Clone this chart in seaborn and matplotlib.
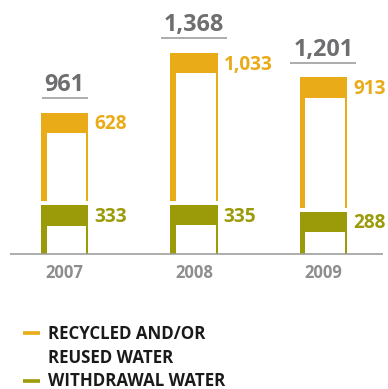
import matplotlib
matplotlib.use("Agg")
import matplotlib.pyplot as plt
import seaborn as sns
import pandas as pd
from matplotlib.patches import Rectangle
from matplotlib.lines import Line2D

years = ["2007", "2008", "2009"]
withdrawal = [333, 335, 288]
recycled = [628, 1033, 913]
totals = [961, 1368, 1201]
total_labels = ["961", "1,368", "1,201"]
recycled_labels = ["628", "1,033", "913"]
withdrawal_labels = ["333", "335", "288"]
legend_labels = ["RECYCLED AND/OR\nREUSED WATER", "WITHDRAWAL WATER"]

ORANGE = "#E9AB17"
OLIVE = "#9B9A08"
GREY_TOTAL = "#6E6E70"
GREY_YEAR = "#8E8E8E"
GREY_LINE = "#9E9E9E"

sns.set_theme(style="white")
plt.rcParams["font.family"] = ["Open Sans", "DejaVu Sans"]

W, H = 388, 389
fig = plt.figure(figsize=(W / 100, H / 100), dpi=100)
ax = fig.add_axes([0, 0, 1, 1])

# pixel geometry of the plotting area
x0_px, step_px = 63.0, 132.0          # first bar centre, bar spacing
base_px = 135.0                        # baseline height from bottom of figure
unit_per_px = 6.8                      # data units per pixel (vertical)
bar_w = 48.0 / step_px

ax.set_xlim(-x0_px / step_px, (W - x0_px) / step_px)
ax.set_ylim(-base_px * unit_per_px, (H - base_px) * unit_per_px)
ax.axis("off")

def py(p):
    return p * unit_per_px

def px(p):
    return p / step_px

df_tot = pd.DataFrame({"year": years, "value": totals})
df_wd = pd.DataFrame({"year": years, "value": withdrawal})

sns.barplot(data=df_tot, x="year", y="value", color=ORANGE, saturation=1,
            width=bar_w, ax=ax, linewidth=0, zorder=1)
n_orange = len(ax.patches)
sns.barplot(data=df_wd, x="year", y="value", color=OLIVE, saturation=1,
            width=bar_w, ax=ax, linewidth=0, zorder=3)
orange_bars = ax.patches[:n_orange]
olive_bars = ax.patches[n_orange:n_orange + len(years)]

inset_l, inset_r, band = px(5.5), px(2.0), py(20.5)
gap = py(4.0)

for i, (ob, gb) in enumerate(zip(orange_bars, olive_bars)):
    x_left = ob.get_x()
    w = ob.get_width()
    top_o = ob.get_height()
    top_g = gb.get_height()
    # hollow interior of the recycled segment
    ax.add_patch(Rectangle((x_left + inset_l, 0), w - inset_l - inset_r,
                           top_o - band, facecolor="white", lw=0, zorder=2))
    # hollow interior of the withdrawal segment
    ax.add_patch(Rectangle((x_left + inset_l, 0), w - inset_l - inset_r,
                           top_g - band, facecolor="white", lw=0, zorder=4))
    # white separation between the two segments
    ax.add_patch(Rectangle((x_left - px(1), top_g), w + px(2), gap,
                           facecolor="white", lw=0, zorder=4))

    xc = x_left + w / 2
    # segment values beside the top bands
    ax.text(x_left + w + px(6.3), top_o - py(16.8), recycled_labels[i],
            color=ORANGE, fontsize=13.7, fontweight="bold",
            ha="left", va="baseline", zorder=5)
    ax.text(x_left + w + px(6.3), top_g - py(16.8), withdrawal_labels[i],
            color=OLIVE, fontsize=13.7, fontweight="bold",
            ha="left", va="baseline", zorder=5)

    # total above the bar, underlined
    t = ax.text(xc, top_o + py(21.6), total_labels[i], color=GREY_TOTAL,
                fontsize=16.8, fontweight="bold", ha="center",
                va="baseline", zorder=5)
    fig.canvas.draw()
    bb = t.get_window_extent()
    half = (bb.width / 2 + 3.5) / step_px
    ax.plot([xc - half, xc + half], [top_o + py(14.6)] * 2,
            color=GREY_LINE, lw=1.2, solid_capstyle="butt", zorder=5)

    # year label under the baseline
    ax.text(xc, -py(23.7), years[i], color=GREY_YEAR, fontsize=12,
            fontweight="bold", ha="center", va="baseline", zorder=5)

# baseline
ax.plot([px(7) - x0_px / step_px, (W - x0_px) / step_px], [0, 0],
        color=GREY_LINE, lw=1.2, solid_capstyle="butt", zorder=6)

# legend
def fx(p):
    return p / W

def fy(p):
    return 1 - p / H

for color, y_mark in [(ORANGE, 333.3), (OLIVE, 381.0)]:
    fig.add_artist(Line2D([fx(23), fx(40)], [fy(y_mark)] * 2, color=color,
                          lw=2.6, solid_capstyle="butt"))
first, second = legend_labels[0].split("\n")
for txt, y_base in [(first, 339.0), (second, 362.7), (legend_labels[1], 386.5)]:
    fig.text(fx(47.5), fy(y_base), txt, color="#1A1A1A", fontsize=12.2,
             fontweight="bold", ha="left", va="baseline")

fig.savefig("out.png", dpi=100)
